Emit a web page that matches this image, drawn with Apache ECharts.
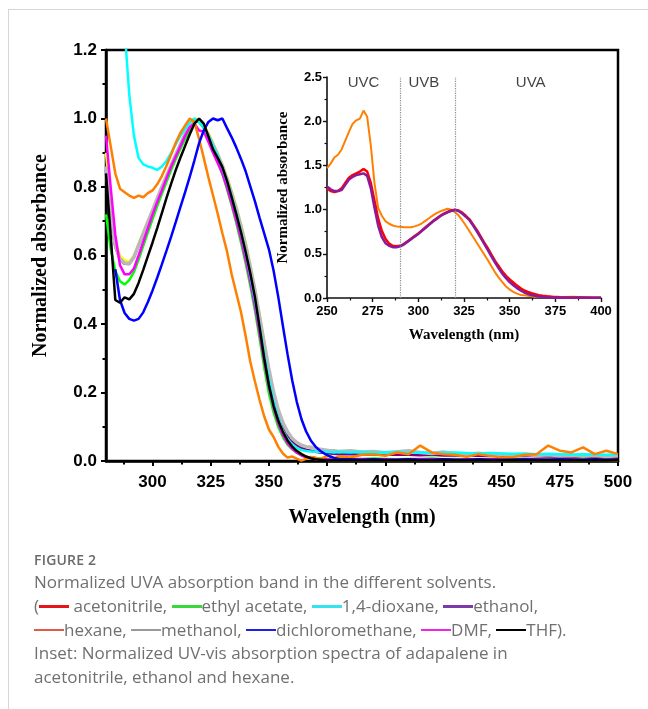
<!DOCTYPE html>
<html>
<head>
<meta charset="utf-8">
<script src="https://cdn.jsdelivr.net/npm/echarts@6/dist/echarts.min.js"></script>
<style>
  html, body { margin:0; padding:0; background:#fff; }
  #wrap { position:relative; width:648px; height:709px; overflow:hidden; }
  #frame { position:absolute; left:8px; top:9px; right:-2px; bottom:-2px; border-top:1.5px solid #d6d6d6; border-left:1.5px solid #d6d6d6; }
  #chart { position:absolute; left:0; top:0; width:648px; height:709px; }
  #cap { position:absolute; left:34px; top:550px; width:610px; font-family:'Open Sans','Noto Sans',sans-serif; color:#707070; font-size:17px; line-height:23.8px; white-space:nowrap; }
  #cap .fig { font-size:14px; font-weight:600; color:#6a6a6a; line-height:20px; letter-spacing:0.2px; }
  #cap .ln { display:inline-block; width:30px; height:2.5px; vertical-align:middle; margin-top:-2px; }
</style>
</head>
<body>
<div id="wrap">
  <div id="frame"></div>
  <div id="chart"></div>
  <div id="cap">
    <div class="fig">FIGURE 2</div>
    Normalized UVA absorption band in the different solvents.<br>
    (<span class="ln" style="background:#e8141b"></span> acetonitrile, <span class="ln" style="background:#3ad93a"></span>ethyl acetate, <span class="ln" style="background:#33e3f0"></span>1,4-dioxane, <span class="ln" style="background:#7b3aa6"></span>ethanol,<br>
    <span class="ln" style="background:#e05a48"></span>hexane, <span class="ln" style="background:#9a9a9a"></span>methanol, <span class="ln" style="background:#1f1fe8"></span>dichloromethane, <span class="ln" style="background:#f025e8"></span>DMF, <span class="ln" style="background:#000"></span>THF).<br>
    Inset: Normalized UV-vis absorption spectra of adapalene in<br>
    acetonitrile, ethanol and hexane.
  </div>
</div>
<script>
// ---------- main chart data ----------
const wlMain = [280,282,284,286,288,290,292,294,296,298,300,302,304,306,308,310,312,314,316,318,320,322,324,326,328,330,332,334,336,338,340,342,344,346,348,350,352,354,356,358,360,362,364,366,368,370,372,374,376,378,380,385,390,395,400,405,410,415,420,425,430,435,440,445,450,455,460,465,470,475,480,485,490,495,500];

const thf = [0.84,0.66,0.47,0.462,0.478,0.472,0.488,0.52,0.558,0.598,0.638,0.68,0.724,0.768,0.81,0.85,0.886,0.92,0.954,0.985,1.0,0.985,0.948,0.91,0.885,0.858,0.818,0.77,0.72,0.668,0.61,0.548,0.478,0.39,0.30,0.222,0.162,0.118,0.085,0.06,0.042,0.029,0.02,0.013,0.008,0.005,0.004,0.003,0.002,0.002,0.002,0.002,0.002,0.003,0.002,0.002,0.003,0.002,0.002,0.003,0.002,0.002,0.003,0.002,0.002,0.003,0.002,0.003,0.002,0.002,0.003,0.002,0.003,0.002,0.004];

const ethylAcetate = [0.72,0.62,0.555,0.525,0.515,0.528,0.552,0.588,0.628,0.668,0.706,0.744,0.78,0.815,0.85,0.882,0.912,0.94,0.966,0.99,0.992,0.972,0.94,0.902,0.872,0.838,0.794,0.746,0.694,0.638,0.578,0.512,0.44,0.358,0.272,0.198,0.142,0.1,0.07,0.048,0.034,0.024,0.017,0.012,0.009,0.008,0.007,0.006,0.006,0.006,0.005,0.006,0.005,0.007,0.006,0.005,0.006,0.005,0.007,0.005,0.006,0.005,0.005,0.006,0.004,0.005,0.006,0.004,0.005,0.004,0.005,0.006,0.004,0.005,0.004];

const acetonitrile = [0.90,0.745,0.645,0.60,0.586,0.582,0.60,0.634,0.668,0.70,0.734,0.768,0.80,0.834,0.865,0.895,0.926,0.956,0.984,1.0,0.996,0.982,0.958,0.928,0.898,0.866,0.83,0.788,0.742,0.692,0.638,0.574,0.504,0.426,0.346,0.264,0.194,0.138,0.098,0.068,0.047,0.032,0.022,0.014,0.009,0.006,0.005,0.004,0.003,0.003,0.003,0.003,0.004,0.003,0.003,0.004,0.003,0.003,0.004,0.003,0.003,0.004,0.003,0.003,0.004,0.003,0.003,0.003,0.004,0.003,0.003,0.004,0.003,0.003,0.003];

const methanol = [0.86,0.72,0.63,0.59,0.578,0.576,0.596,0.63,0.664,0.698,0.732,0.766,0.80,0.832,0.864,0.895,0.925,0.955,0.98,0.995,0.99,0.975,0.952,0.924,0.895,0.862,0.824,0.782,0.736,0.686,0.63,0.566,0.498,0.422,0.344,0.268,0.202,0.15,0.112,0.085,0.066,0.054,0.046,0.042,0.04,0.036,0.034,0.032,0.03,0.03,0.028,0.03,0.026,0.028,0.024,0.027,0.03,0.025,0.022,0.026,0.021,0.02,0.023,0.018,0.02,0.017,0.019,0.016,0.018,0.015,0.017,0.014,0.016,0.013,0.015];

const ethanol = [0.85,0.71,0.625,0.588,0.576,0.575,0.594,0.628,0.662,0.696,0.73,0.764,0.798,0.83,0.862,0.893,0.923,0.953,0.978,0.994,0.992,0.976,0.952,0.922,0.892,0.86,0.822,0.78,0.733,0.682,0.625,0.56,0.49,0.414,0.336,0.26,0.195,0.142,0.104,0.076,0.058,0.046,0.038,0.033,0.03,0.027,0.025,0.023,0.022,0.021,0.02,0.02,0.019,0.02,0.018,0.019,0.018,0.017,0.018,0.016,0.017,0.016,0.015,0.016,0.015,0.014,0.015,0.014,0.013,0.014,0.013,0.012,0.013,0.012,0.012];

const dmf = [0.95,0.80,0.66,0.572,0.545,0.545,0.562,0.60,0.64,0.68,0.72,0.756,0.79,0.826,0.86,0.89,0.92,0.95,0.975,0.985,0.965,0.962,0.932,0.9,0.87,0.84,0.798,0.752,0.702,0.648,0.588,0.524,0.452,0.372,0.29,0.216,0.156,0.11,0.076,0.052,0.036,0.024,0.016,0.011,0.008,0.006,0.005,0.005,0.005,0.005,0.005,0.005,0.006,0.005,0.005,0.004,0.005,0.006,0.005,0.005,0.004,0.005,0.005,0.006,0.005,0.004,0.005,0.005,0.004,0.005,0.005,0.004,0.005,0.004,0.005];

const dioxane = [null,null,null,null,1.26,1.07,0.95,0.885,0.866,0.86,0.856,0.85,0.86,0.876,0.90,0.925,0.95,0.97,0.99,1.0,0.99,0.975,0.95,0.92,0.89,0.856,0.816,0.772,0.722,0.668,0.608,0.542,0.47,0.392,0.312,0.238,0.174,0.124,0.088,0.064,0.048,0.038,0.032,0.029,0.028,0.027,0.027,0.026,0.026,0.025,0.026,0.025,0.026,0.024,0.025,0.026,0.024,0.025,0.023,0.024,0.025,0.023,0.022,0.023,0.022,0.021,0.022,0.02,0.021,0.02,0.019,0.02,0.019,0.018,0.019];

const hexane = [1.0,0.92,0.84,0.795,0.785,0.775,0.768,0.775,0.77,0.782,0.79,0.808,0.832,0.862,0.895,0.93,0.958,0.98,1.0,0.99,0.94,0.885,0.828,0.775,0.722,0.665,0.612,0.545,0.49,0.435,0.365,0.29,0.232,0.178,0.13,0.092,0.07,0.042,0.022,0.01,0.013,0.007,0.001,0.006,0.012,0.01,0.005,0.012,0.016,0.008,0.013,0.01,0.018,0.02,0.015,0.025,0.02,0.045,0.025,0.02,0.018,0.012,0.02,0.015,0.01,0.012,0.018,0.02,0.045,0.03,0.025,0.04,0.02,0.03,0.02];

const dichloromethane = [null,null,0.56,0.47,0.432,0.415,0.41,0.415,0.434,0.464,0.498,0.535,0.574,0.614,0.655,0.698,0.742,0.785,0.83,0.878,0.928,0.965,0.99,1.0,0.995,1.0,0.972,0.945,0.915,0.882,0.846,0.802,0.758,0.71,0.664,0.618,0.556,0.48,0.395,0.312,0.236,0.172,0.122,0.086,0.06,0.042,0.03,0.021,0.014,0.009,0.006,0.005,0.004,0.005,0.004,0.004,0.005,0.004,0.004,0.005,0.004,0.004,0.005,0.004,0.004,0.004,0.005,0.004,0.004,0.005,0.004,0.004,0.005,0.004,0.004];

const mainTicks = [300,325,350,375,400,425,450,475,500];
const mainMinorTicks = [287.5,312.5,337.5,362.5,387.5,412.5,437.5,462.5,487.5];

// ---------- inset data ----------
const wlInset = [250,252,254,256,258,260,262,264,266,268,270,272,274,276,278,280,282,284,286,288,290,292,294,296,298,300,302,304,306,308,310,312,314,316,318,320,322,324,326,328,330,332,334,336,338,340,342,344,346,348,350,352,354,356,358,360,362,364,366,368,370,372,374,376,378,380,385,390,395,400];

const insetHexane = [1.47,1.52,1.59,1.62,1.68,1.78,1.88,1.97,2.01,2.03,2.12,2.05,1.72,1.3,1.02,0.93,0.87,0.84,0.82,0.81,0.805,0.80,0.80,0.80,0.81,0.825,0.845,0.875,0.905,0.935,0.96,0.98,0.995,1.01,1.0,0.97,0.935,0.88,0.82,0.755,0.69,0.625,0.56,0.495,0.43,0.36,0.29,0.23,0.18,0.13,0.095,0.07,0.05,0.035,0.03,0.025,0.02,0.015,0.02,0.018,0.025,0.012,0.01,0.012,0.008,0.01,0.015,0.008,0.006,0.004];

const insetAcetonitrile = [1.24,1.21,1.2,1.21,1.24,1.3,1.36,1.39,1.41,1.43,1.46,1.43,1.3,1.1,0.9,0.76,0.67,0.615,0.59,0.585,0.59,0.61,0.64,0.67,0.70,0.73,0.765,0.8,0.835,0.87,0.9,0.93,0.955,0.975,0.99,1.0,0.99,0.965,0.93,0.89,0.83,0.77,0.70,0.63,0.565,0.49,0.42,0.36,0.3,0.25,0.21,0.175,0.14,0.11,0.085,0.068,0.054,0.042,0.032,0.025,0.02,0.016,0.012,0.01,0.008,0.007,0.006,0.005,0.004,0.003];

const insetEthanol = [1.26,1.23,1.21,1.21,1.22,1.28,1.34,1.37,1.39,1.40,1.41,1.38,1.24,1.02,0.82,0.69,0.62,0.59,0.575,0.575,0.585,0.605,0.635,0.665,0.695,0.725,0.76,0.795,0.83,0.865,0.895,0.925,0.95,0.97,0.985,0.995,0.985,0.955,0.92,0.88,0.82,0.755,0.685,0.615,0.545,0.47,0.4,0.335,0.275,0.225,0.18,0.145,0.112,0.085,0.062,0.046,0.034,0.025,0.018,0.013,0.009,0.006,0.005,0.004,0.003,0.003,0.002,0.002,0.002,0.002];

const bandNames = ['UVC','UVB','UVA'];
const bandCenters = [270,303,361.5];
const bandLabelLevel = 2.43;
const bandEdges = [290,320];

// ---------- build ----------
function pairs(xs, ys) {
  const out = [];
  for (let i = 0; i < xs.length; i++) if (ys[i] != null) out.push([xs[i], ys[i]]);
  return out;
}
const chart = echarts.init(document.getElementById('chart'), null, {renderer:'canvas'});

const mainSeriesDefs = [
  {name:'acetonitrile', data:acetonitrile, color:'#ffff00', w:2.5},
  {name:'ethanol', data:ethanol, color:'#800080', w:2.5},
  {name:'methanol', data:methanol, color:'#b9b9b9', w:3.5},
  {name:'ethyl acetate', data:ethylAcetate, color:'#00ff00', w:2.5},
  {name:'DMF', data:dmf, color:'#ff00ff', w:2.5},
  {name:'1,4-dioxane', data:dioxane, color:'#00ffff', w:2.5},
  {name:'hexane', data:hexane, color:'#ff8000', w:2.5},
  {name:'dichloromethane', data:dichloromethane, color:'#0000ff', w:2.5},
  {name:'THF', data:thf, color:'#000000', w:2.5}
];
const insetSeriesDefs = [
  {name:'hexane (inset)', data:insetHexane, color:'#ff8000', w:2},
  {name:'acetonitrile (inset)', data:insetAcetonitrile, color:'#ff0000', w:2.5},
  {name:'ethanol (inset)', data:insetEthanol, color:'#8b1a9b', w:2.5}
];

const series = [];
mainSeriesDefs.forEach(d => series.push({
  name:d.name, type:'line', xAxisIndex:0, yAxisIndex:0, data:pairs(wlMain, d.data),
  showSymbol:false, symbol:'none', clip:true, lineStyle:{color:d.color, width:d.w}, itemStyle:{color:d.color}
}));
insetSeriesDefs.forEach(d => series.push({
  name:d.name, type:'line', xAxisIndex:2, yAxisIndex:1, data:pairs(wlInset, d.data),
  showSymbol:false, symbol:'none', clip:true, lineStyle:{color:d.color, width:d.w}, itemStyle:{color:d.color}
}));

const sans = "'Liberation Sans', Arial, sans-serif";
const serif = "'Liberation Serif', 'Times New Roman', serif";

series.push({
  name:'bands', type:'scatter', xAxisIndex:2, yAxisIndex:1, symbolSize:0,
  data: bandNames.map((n,i) => ({name:n, value:[bandCenters[i], bandLabelLevel]})),
  label:{show:true, position:'inside', formatter:p=>p.name, color:'#111', fontSize:15, fontFamily:sans},
  markLine:{silent:true, symbol:['none','none'], label:{show:false},
    lineStyle:{type:'dotted', color:'#8a8a8a', width:1.2},
    data: bandEdges.map(v => ({xAxis:v}))}
});

chart.setOption({
  animation:false,
  backgroundColor:'transparent',
  grid:[
    {left:106, top:50, width:512, height:411, show:true, borderColor:'#000', borderWidth:2.5, backgroundColor:'transparent'},
    {left:327, top:77, width:274, height:221, show:false}
  ],
  xAxis:[
    {type:'value', gridIndex:0, min:280, max:500, position:'bottom',
      name:'Wavelength (nm)', nameLocation:'middle', nameGap:47,
      nameTextStyle:{fontFamily:serif, fontWeight:'bold', fontSize:20, color:'#000'},
      axisLine:{show:true, lineStyle:{color:'#000', width:2.5}},
      axisTick:{show:true, customValues:mainTicks, length:5, lineStyle:{color:'#000', width:2}},
      axisLabel:{customValues:mainTicks, margin:13, fontFamily:sans, fontWeight:'bold', fontSize:17, color:'#000'},
      splitLine:{show:false}},
    {type:'value', gridIndex:0, min:280, max:500, position:'bottom',
      axisLine:{show:false},
      axisTick:{show:true, customValues:mainMinorTicks, length:3.5, lineStyle:{color:'#000', width:2}},
      axisLabel:{show:false}, splitLine:{show:false}},
    {type:'value', gridIndex:1, min:250, max:400, interval:25,
      name:'Wavelength (nm)', nameLocation:'middle', nameGap:30,
      nameTextStyle:{fontFamily:serif, fontWeight:'bold', fontSize:15, color:'#000'},
      axisLine:{show:true, lineStyle:{color:'#111', width:1.6}},
      axisTick:{show:true, length:4, lineStyle:{color:'#111', width:1.4}},
      minorTick:{show:true, splitNumber:2, length:2.5, lineStyle:{color:'#111', width:1.2}},
      axisLabel:{margin:7, fontFamily:sans, fontWeight:'bold', fontSize:13, color:'#000'},
      splitLine:{show:false}}
  ],
  yAxis:[
    {type:'value', gridIndex:0, min:0, max:1.2, interval:0.2,
      name:'Normalized absorbance', nameLocation:'middle', nameGap:55,
      nameTextStyle:{fontFamily:serif, fontWeight:'bold', fontSize:20, color:'#000'},
      axisLine:{show:true, lineStyle:{color:'#000', width:2.5}},
      axisTick:{show:true, length:5, lineStyle:{color:'#000', width:2}},
      minorTick:{show:true, splitNumber:2, length:3.5, lineStyle:{color:'#000', width:2}},
      axisLabel:{margin:9, fontFamily:sans, fontWeight:'bold', fontSize:17, color:'#000', formatter:v=>v.toFixed(1)},
      splitLine:{show:false}},
    {type:'value', gridIndex:1, min:0, max:2.5, interval:0.5,
      name:'Normalized absorbance', nameLocation:'middle', nameGap:36,
      nameTextStyle:{fontFamily:serif, fontWeight:'bold', fontSize:15, color:'#000'},
      axisLine:{show:true, lineStyle:{color:'#111', width:1.6}},
      axisTick:{show:true, length:4, lineStyle:{color:'#111', width:1.4}},
      minorTick:{show:true, splitNumber:2, length:2.5, lineStyle:{color:'#111', width:1.2}},
      axisLabel:{margin:5, fontFamily:sans, fontWeight:'bold', fontSize:13, color:'#000', formatter:v=>v.toFixed(1)},
      splitLine:{show:false}}
  ],
  series: series
});
</script>
</body>
</html>
